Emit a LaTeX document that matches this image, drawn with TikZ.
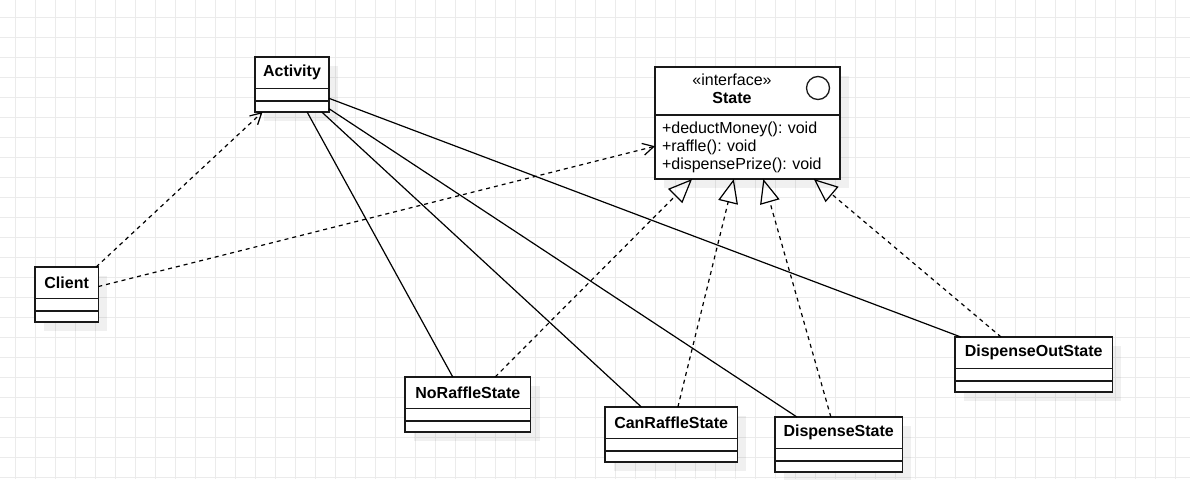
\documentclass[tikz,border=0pt]{standalone}
\usepackage{fontspec}
\setmainfont{Liberation Sans}
\usepackage{tikz}
\usetikzlibrary{arrows.meta,fit,positioning,shadows}
\frenchspacing
\tikzset{
    %Define shadow of the class boxes
    boxshadow/.style={
           drop shadow={shadow xshift=9pt, shadow yshift=-9pt, fill=black, opacity=0.06}},
    %Define style for boxes
    classname/.style={
           rectangle,
           draw=black!90, line width=1.3pt,
           fill=white,
           inner sep=0pt, outer sep=0pt,
           minimum height=31.5pt,
           font=\fontsize{16}{18}\selectfont\bfseries,
           text centered,
           boxshadow},
    classpart/.style={
           rectangle,
           draw=black!90, line width=1.3pt,
           fill=white,
           inner sep=0pt, outer sep=0pt,
           minimum height=12.5pt,
           boxshadow},
    wholeclass/.style={
           rectangle,
           inner sep=0pt, outer sep=0pt},
    % Define arrow style
    assoc/.style={
           line width=1.2pt},
    uses/.style={
           line width=1.2pt,
           dash pattern=on 4pt off 4pt,
           -{Straight Barb[length=11pt,width=12pt]}},
    realizes/.style={
           line width=1.2pt,
           dash pattern=on 4pt off 4pt,
           -{Triangle[open,length=24pt,width=20pt]}},
    gridline/.style={draw=black!8, line width=1pt}
}
\begin{document}
\begin{tikzpicture}[x=1pt,y=-1pt]
\useasboundingbox (0,0) rectangle (1190,479);
%grid
\foreach \gx in {15,35,...,1175} \draw[gridline] (\gx,0) -- (\gx,479);
\foreach \gy in {17,37,...,477} \draw[gridline] (0,\gy) -- (1190,\gy);
 %classes
\node[classname, minimum width=74pt, anchor=north west](act) at (255,57){Activity};
\node[classpart, minimum width=74pt, below=0pt of act](act1){};
\node[classpart, minimum width=74pt, minimum height=11pt, below=0pt of act1](act2){};
\node[wholeclass, fit=(act)(act2)](activity){};

\node[classname, minimum width=63.3pt, anchor=north west](cl) at (35,267){Client};
\node[classpart, minimum width=63.3pt, below=0pt of cl](cl1){};
\node[classpart, minimum width=63.3pt, minimum height=11pt, below=0pt of cl1](cl2){};
\node[wholeclass, fit=(cl)(cl2)](client){};

\node[classname, minimum width=185pt, minimum height=48pt, anchor=north west](st) at (655,67){};
\node[font=\fontsize{16}{18}\selectfont, align=center](stlabel) at (732,89){«interface»\\\textbf{State}};
\node[circle, draw=black!90, line width=1.3pt, minimum size=23pt, inner sep=0pt](sticon) at (818,88){};
\node[classpart, minimum width=185pt, minimum height=64pt, below=0pt of st,
      text width=171pt, align=left, font=\fontsize{16}{18}\selectfont](stops)
      {+deductMoney(): void\\+raffle(): void\\+dispensePrize(): void};
\node[wholeclass, fit=(st)(stops)](state){};

\node[classname, minimum width=125.7pt, anchor=north west](nr) at (405,377){NoRaffleState};
\node[classpart, minimum width=125.7pt, below=0pt of nr](nr1){};
\node[classpart, minimum width=125.7pt, minimum height=11pt, below=0pt of nr1](nr2){};
\node[wholeclass, fit=(nr)(nr2)](noraffle){};

\node[classname, minimum width=132.3pt, anchor=north west](cr) at (605,407){CanRaffleState};
\node[classpart, minimum width=132.3pt, below=0pt of cr](cr1){};
\node[classpart, minimum width=132.3pt, minimum height=11pt, below=0pt of cr1](cr2){};
\node[wholeclass, fit=(cr)(cr2)](canraffle){};

\node[classname, minimum width=127.3pt, anchor=north west](ds) at (775,417){DispenseState};
\node[classpart, minimum width=127.3pt, below=0pt of ds](ds1){};
\node[classpart, minimum width=127.3pt, minimum height=11pt, below=0pt of ds1](ds2){};
\node[wholeclass, fit=(ds)(ds2)](dispense){};

\node[classname, minimum width=157.3pt, anchor=north west](do) at (955,337){DispenseOutState};
\node[classpart, minimum width=157.3pt, below=0pt of do](do1){};
\node[classpart, minimum width=157.3pt, minimum height=11pt, below=0pt of do1](do2){};
\node[wholeclass, fit=(do)(do2)](dispenseout){};
 %connectors
\path[uses]
    (client) edge (activity)
    (client) edge (state);
\path[assoc]
    (activity) edge (noraffle)
    (activity) edge (canraffle)
    (activity) edge (dispense)
    (activity) edge (dispenseout);
\path[realizes]
    (noraffle) edge (state)
    (canraffle) edge (state)
    (dispense) edge (state)
    (dispenseout) edge (state);
\end{tikzpicture}
\end{document}
